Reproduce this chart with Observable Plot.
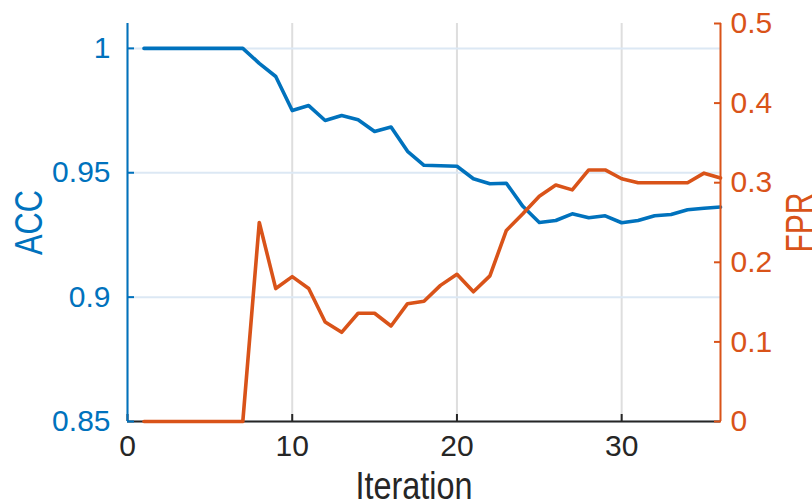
<!DOCTYPE html>
<html><head><meta charset="utf-8">
<script src="https://cdn.jsdelivr.net/npm/d3@7"></script>
<script src="https://cdn.jsdelivr.net/npm/@observablehq/plot@0.6"></script>
<style>
html,body{margin:0;padding:0;background:#fff;overflow:hidden}
#chart{position:relative;width:812px;height:500px}
#chart svg{position:absolute;left:0;top:0}
</style></head><body><div id="chart"></div>
<script>
const iterations = d3.range(1, 37);
const acc = [1, 1, 1, 1, 1, 1, 1, 0.994, 0.9887, 0.975, 0.977, 0.971, 0.973, 0.9713, 0.9666, 0.9684, 0.9586, 0.953, 0.9528, 0.9526, 0.9476, 0.9456, 0.9458, 0.9365, 0.930, 0.9308, 0.9335, 0.9319, 0.9327, 0.9299, 0.9308, 0.9327, 0.9332, 0.9351, 0.9357, 0.9362];
const fpr = [0, 0, 0, 0, 0, 0, 0, 0.25, 0.167, 0.182, 0.167, 0.125, 0.112, 0.136, 0.136, 0.12, 0.148, 0.151, 0.171, 0.185, 0.163, 0.183, 0.24, 0.261, 0.283, 0.297, 0.291, 0.316, 0.316, 0.305, 0.3, 0.3, 0.3, 0.3, 0.312, 0.306];
const xTicks = [0, 10, 20, 30];
const accTicks = [0.85, 0.9, 0.95, 1];
const fprTicks = [0, 0.1, 0.2, 0.3, 0.4, 0.5];
const xLabel = "Iteration", accLabel = "ACC", fprLabel = "FPR";

const blue = "#0072BD", orange = "#D95319", dark = "#262626";
const accData = iterations.map((x, i) => ({x, y: acc[i]}));
const fprData = iterations.map((x, i) => ({x, y: fpr[i]}));

const common = {
  width: 812, height: 500,
  marginLeft: 127, marginRight: 92, marginTop: 23, marginBottom: 79,
  x: {domain: [0, 36]},
  style: {fontFamily: "'Liberation Sans', Arial, sans-serif", background: "transparent", overflow: "hidden"}
};
const tickFont = 30;
const labelFont = "'Liberation Sans', sans-serif";

const p1 = Plot.plot({
  ...common,
  y: {domain: [0.85, 1.01]},
  marks: [
    Plot.gridX(xTicks, {stroke: "#dedede", strokeOpacity: 1, strokeWidth: 2}),
    Plot.gridY(accTicks, {stroke: "#dce8f4", strokeOpacity: 1, strokeWidth: 2}),
    Plot.line(accData, {x: "x", y: "y", stroke: blue, strokeWidth: 3.6}),
    Plot.ruleY([0.85], {stroke: dark, strokeWidth: 2}),
    Plot.axisX(xTicks, {tickSize: -7, tickPadding: 20, fontSize: tickFont, fill: dark, stroke: dark, strokeWidth: 2, label: null, tickFormat: d => String(d)}),
    Plot.ruleX([0], {stroke: blue, strokeWidth: 2}),
    Plot.axisY(accTicks, {anchor: "left", tickSize: -7, tickPadding: 24, fontSize: tickFont, fill: blue, stroke: blue, strokeWidth: 2, label: null, tickFormat: d => String(d)}),
    Plot.text([accLabel], {text: d => d, frameAnchor: "left", textAnchor: "middle", lineAnchor: "middle", rotate: -90, dx: -98, fill: blue, fontSize: 38, fontFamily: labelFont}),
    Plot.text([xLabel], {text: d => d, frameAnchor: "bottom", textAnchor: "middle", lineAnchor: "middle", dx: -10, dy: 65, fill: dark, fontSize: 38, fontFamily: labelFont})
  ]
});

const p2 = Plot.plot({
  ...common,
  x: {domain: [0, 36], axis: null},
  y: {domain: [0, 0.5]},
  marks: [
    Plot.line(fprData, {x: "x", y: "y", stroke: orange, strokeWidth: 3.6}),
    Plot.ruleX([36], {stroke: orange, strokeWidth: 2}),
    Plot.axisY(fprTicks, {anchor: "right", tickSize: -7, tickPadding: 17, fontSize: tickFont, fill: orange, stroke: orange, strokeWidth: 2, label: null, tickFormat: d => String(d)}),
    Plot.text([fprLabel], {text: d => d, frameAnchor: "right", textAnchor: "middle", lineAnchor: "middle", rotate: -90, dx: 80, fill: orange, fontSize: 38, fontFamily: labelFont})
  ]
});

// condense the axis titles to the reference's narrow lettering
const titleWidths = {[xLabel]: 117, [accLabel]: 65, [fprLabel]: 60};
for (const svg of [p1, p2]) {
  d3.select(svg).selectAll("text").each(function() {
    const t = this.textContent;
    if (t in titleWidths && this.childElementCount === 0) {
      d3.select(this).attr("textLength", titleWidths[t]).attr("lengthAdjust", "spacingAndGlyphs");
    }
  });
}

document.getElementById("chart").append(p1, p2);
</script>
</body></html>
